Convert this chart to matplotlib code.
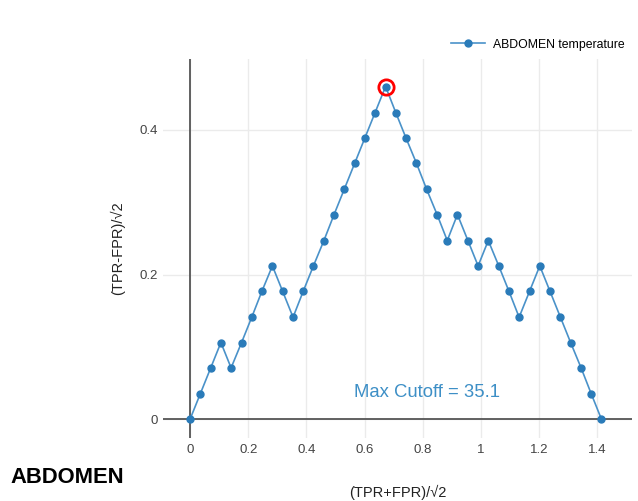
import numpy as np
import matplotlib
matplotlib.use("Agg")
import matplotlib.pyplot as plt

plt.rcParams['font.family'] = ['Liberation Sans', 'DejaVu Sans']

# rotated ROC coordinates, one point per threshold
x_vals = [0, 0.035, 0.071, 0.106, 0.141, 0.177, 0.212, 0.247, 0.283, 0.318,
          0.354, 0.389, 0.424, 0.46, 0.495, 0.53, 0.566, 0.601, 0.636, 0.672,
          0.707, 0.742, 0.778, 0.813, 0.849, 0.884, 0.919, 0.955, 0.99, 1.025,
          1.061, 1.096, 1.131, 1.167, 1.202, 1.237, 1.273, 1.308, 1.344, 1.379,
          1.414]
y_vals = [0, 0.035, 0.071, 0.106, 0.071, 0.106, 0.141, 0.177, 0.212, 0.177,
          0.141, 0.177, 0.212, 0.247, 0.283, 0.318, 0.354, 0.389, 0.424, 0.46,
          0.424, 0.389, 0.354, 0.318, 0.283, 0.247, 0.283, 0.247, 0.212, 0.247,
          0.212, 0.177, 0.141, 0.177, 0.212, 0.177, 0.141, 0.106, 0.071, 0.035,
          0]
x_ticks = [0, 0.2, 0.4, 0.6, 0.8, 1, 1.2, 1.4]
y_ticks = [0, 0.2, 0.4]
series_name = "ABDOMEN temperature"
max_cutoff = 35.1

line_color = '#4a92c9'
marker_color = '#2a7bb9'

fig = plt.figure(figsize=(6.38, 5.01), dpi=100, facecolor='white')
ax = fig.add_axes([0.2555, 0.1257, 0.7351, 0.7565])
ax.set_facecolor('white')

ax.set_xlim(-0.093, 1.519)
ax.set_ylim(-0.026, 0.498)

for s in ax.spines.values():
    s.set_visible(False)

ax.set_xticks(x_ticks)
ax.set_xticklabels(['0', '0.2', '0.4', '0.6', '0.8', '1', '1.2', '1.4'])
ax.set_yticks(y_ticks)
ax.set_yticklabels(['0', '0.2', '0.4'])
ax.tick_params(length=0, labelsize=9.5, colors='#444444', pad=4)
ax.grid(True, color='#ebebeb', linewidth=1)
ax.set_axisbelow(True)

# zero lines
ax.axhline(0, color='#555555', linewidth=1.3, zorder=1)
ax.axvline(0, color='#555555', linewidth=1.3, zorder=1)

ax.plot(x_vals, y_vals, color=line_color, linewidth=1.2, zorder=2)
ax.plot(x_vals, y_vals, linestyle='none', marker='o', markersize=5,
        markerfacecolor=marker_color, markeredgecolor=marker_color, zorder=3)

# legend entry (line + marker together)
ax.plot([], [], color=line_color, linewidth=1.2, marker='o', markersize=5,
        markerfacecolor=marker_color, markeredgecolor=marker_color,
        label=series_name)

# mark best cutoff
peak = int(np.argmax(y_vals))
ax.plot(x_vals[peak], y_vals[peak], marker='o', markersize=11,
        markerfacecolor='none', markeredgecolor='#ff0000', markeredgewidth=2,
        zorder=4)

ax.text(0.814, 0.037, f'Max Cutoff = {max_cutoff}', color='#3d8fc6',
        fontsize=13.3, ha='center', va='center')

ax.set_xlabel('(TPR+FPR)/√2', fontsize=10.5, color='#222222', labelpad=21)
ax.set_ylabel('(TPR-FPR)/√2', fontsize=10.5, color='#222222', labelpad=10)

fig.text(0.016, 0.046, 'ABDOMEN', fontsize=15.8, fontweight='bold',
         color='black', ha='left', va='center')

leg = fig.legend(loc='upper right', bbox_to_anchor=(0.996, 0.945),
                 frameon=False, fontsize=8.8, handlelength=2.8,
                 handletextpad=0.6)

fig.savefig('out.png', dpi=100, facecolor='white')
